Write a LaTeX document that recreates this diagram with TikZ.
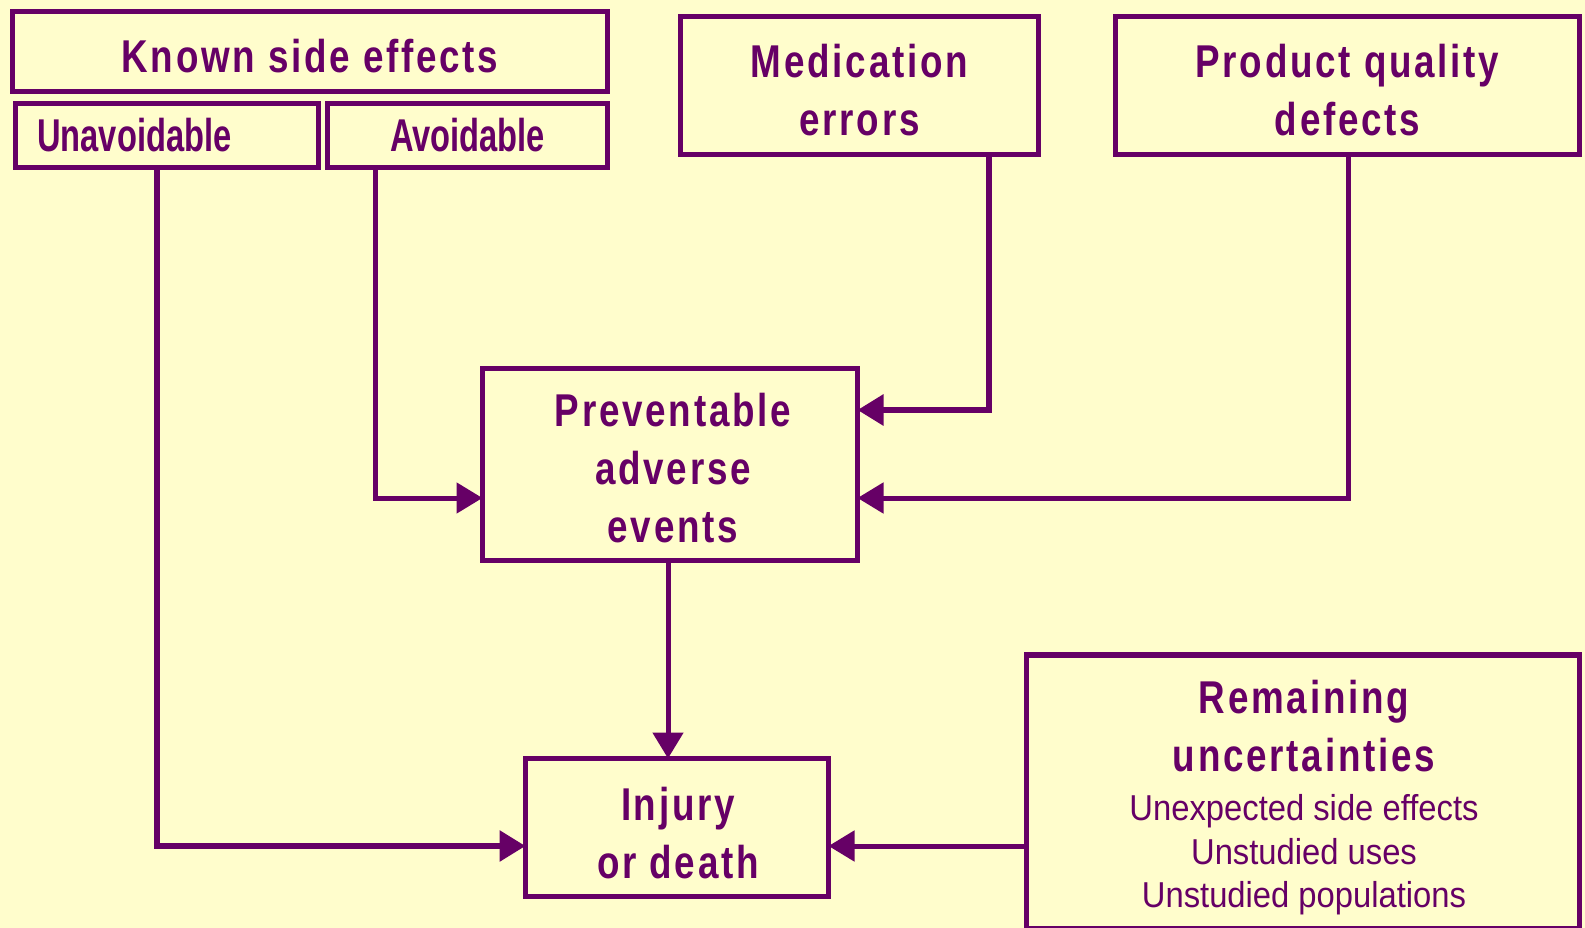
\documentclass[tikz,border=0pt]{standalone}
\usepackage{fontspec}
\usetikzlibrary{arrows.meta}
\newfontfamily\kfont[FakeStretch=0.8,LetterSpace=6]{Liberation Sans}
\newfontfamily\nfont[FakeStretch=0.71]{Liberation Sans}
\newfontfamily\rfont[FakeStretch=0.91]{Liberation Sans}
\definecolor{bg}{HTML}{FFFDCC}
\definecolor{pur}{HTML}{660066}
\tikzset{
  box/.style={draw=pur, line width=5.5pt, rectangle, inner sep=0pt, outer sep=0pt},
  big/.style={text=pur, align=center, inner sep=0pt, font=\kfont\bfseries\fontsize{46}{58}\selectfont},
  sub/.style={text=pur, inner sep=0pt, font=\nfont\bfseries\fontsize{46}{56}\selectfont},
  small/.style={text=pur, align=center, inner sep=0pt, font=\rfont\fontsize{36}{43.5}\selectfont},
  conn/.style={draw=pur, line width=5pt, line join=miter, -{Triangle[length=26pt,width=30pt]}}
}
\begin{document}
\begin{tikzpicture}[x=1pt,y=-1pt]
\fill[bg] (0,0) rectangle (1585,928);
\useasboundingbox (0,0) rectangle (1585,928);
% boxes
\node[box, minimum width=595pt, minimum height=80pt] (known) at (310,51.5) {};
\node[box, minimum width=303pt, minimum height=64pt] (unav) at (167,135.5) {};
\node[box, minimum width=280pt, minimum height=64pt] (avoid) at (467.5,135.5) {};
\node[box, minimum width=358pt, minimum height=138pt] (med) at (859.5,85.5) {};
\node[box, minimum width=464pt, minimum height=138pt] (prod) at (1347.5,85.5) {};
\node[box, minimum width=375pt, minimum height=192pt] (prev) at (670,464.5) {};
\node[box, minimum width=303pt, minimum height=138pt] (inj) at (677,827.5) {};
\node[box, minimum width=553pt, minimum height=274pt] (rem) at (1303,792) {};
% texts
\node[big] (tknown) at (310,56) {Known side effects};
\node[sub, anchor=base west] (tunav) at (37,152) {Unavoidable};
\node[sub, anchor=base] (tavoid) at (467.5,152) {Avoidable};
\node[big] (tmed) at (859.5,90) {Medication\\errors};
\node[big] (tprod) at (1347.5,90) {Product quality\\defects};
\node[big] (tprev) at (673,468) {Preventable\\adverse\\events};
\node[big] (tinj) at (678,833) {Injury\\or death};
\node[big] (trem) at (1304,726) {Remaining\\uncertainties};
\node[small] (trem2) at (1304,855) {Unexpected side effects\\Unstudied uses\\Unstudied populations};
% bend points
\coordinate (b1) at (157,846);
\coordinate (b2) at (375,498);
\coordinate (b3) at (989,410);
\coordinate (b4) at (1348,498);
\coordinate (b5) at (668,0);
% connectors
\draw[conn, line width=6pt] (unav.south -| b1) -- (b1) -- (inj.west |- b1);
\draw[conn] (avoid.south -| b2) -- (b2) -- (prev.west |- b2);
\draw[conn, line width=6pt] (med.south -| b3) -- (b3) -- (prev.east |- b3);
\draw[conn] (prod.south -| b4) -- (b4) -- (prev.east |- b4);
\draw[conn] (prev.south -| b5) -- (inj.north -| b5);
\draw[conn] (rem.west |- b1) -- (inj.east |- b1);
\end{tikzpicture}
\end{document}
